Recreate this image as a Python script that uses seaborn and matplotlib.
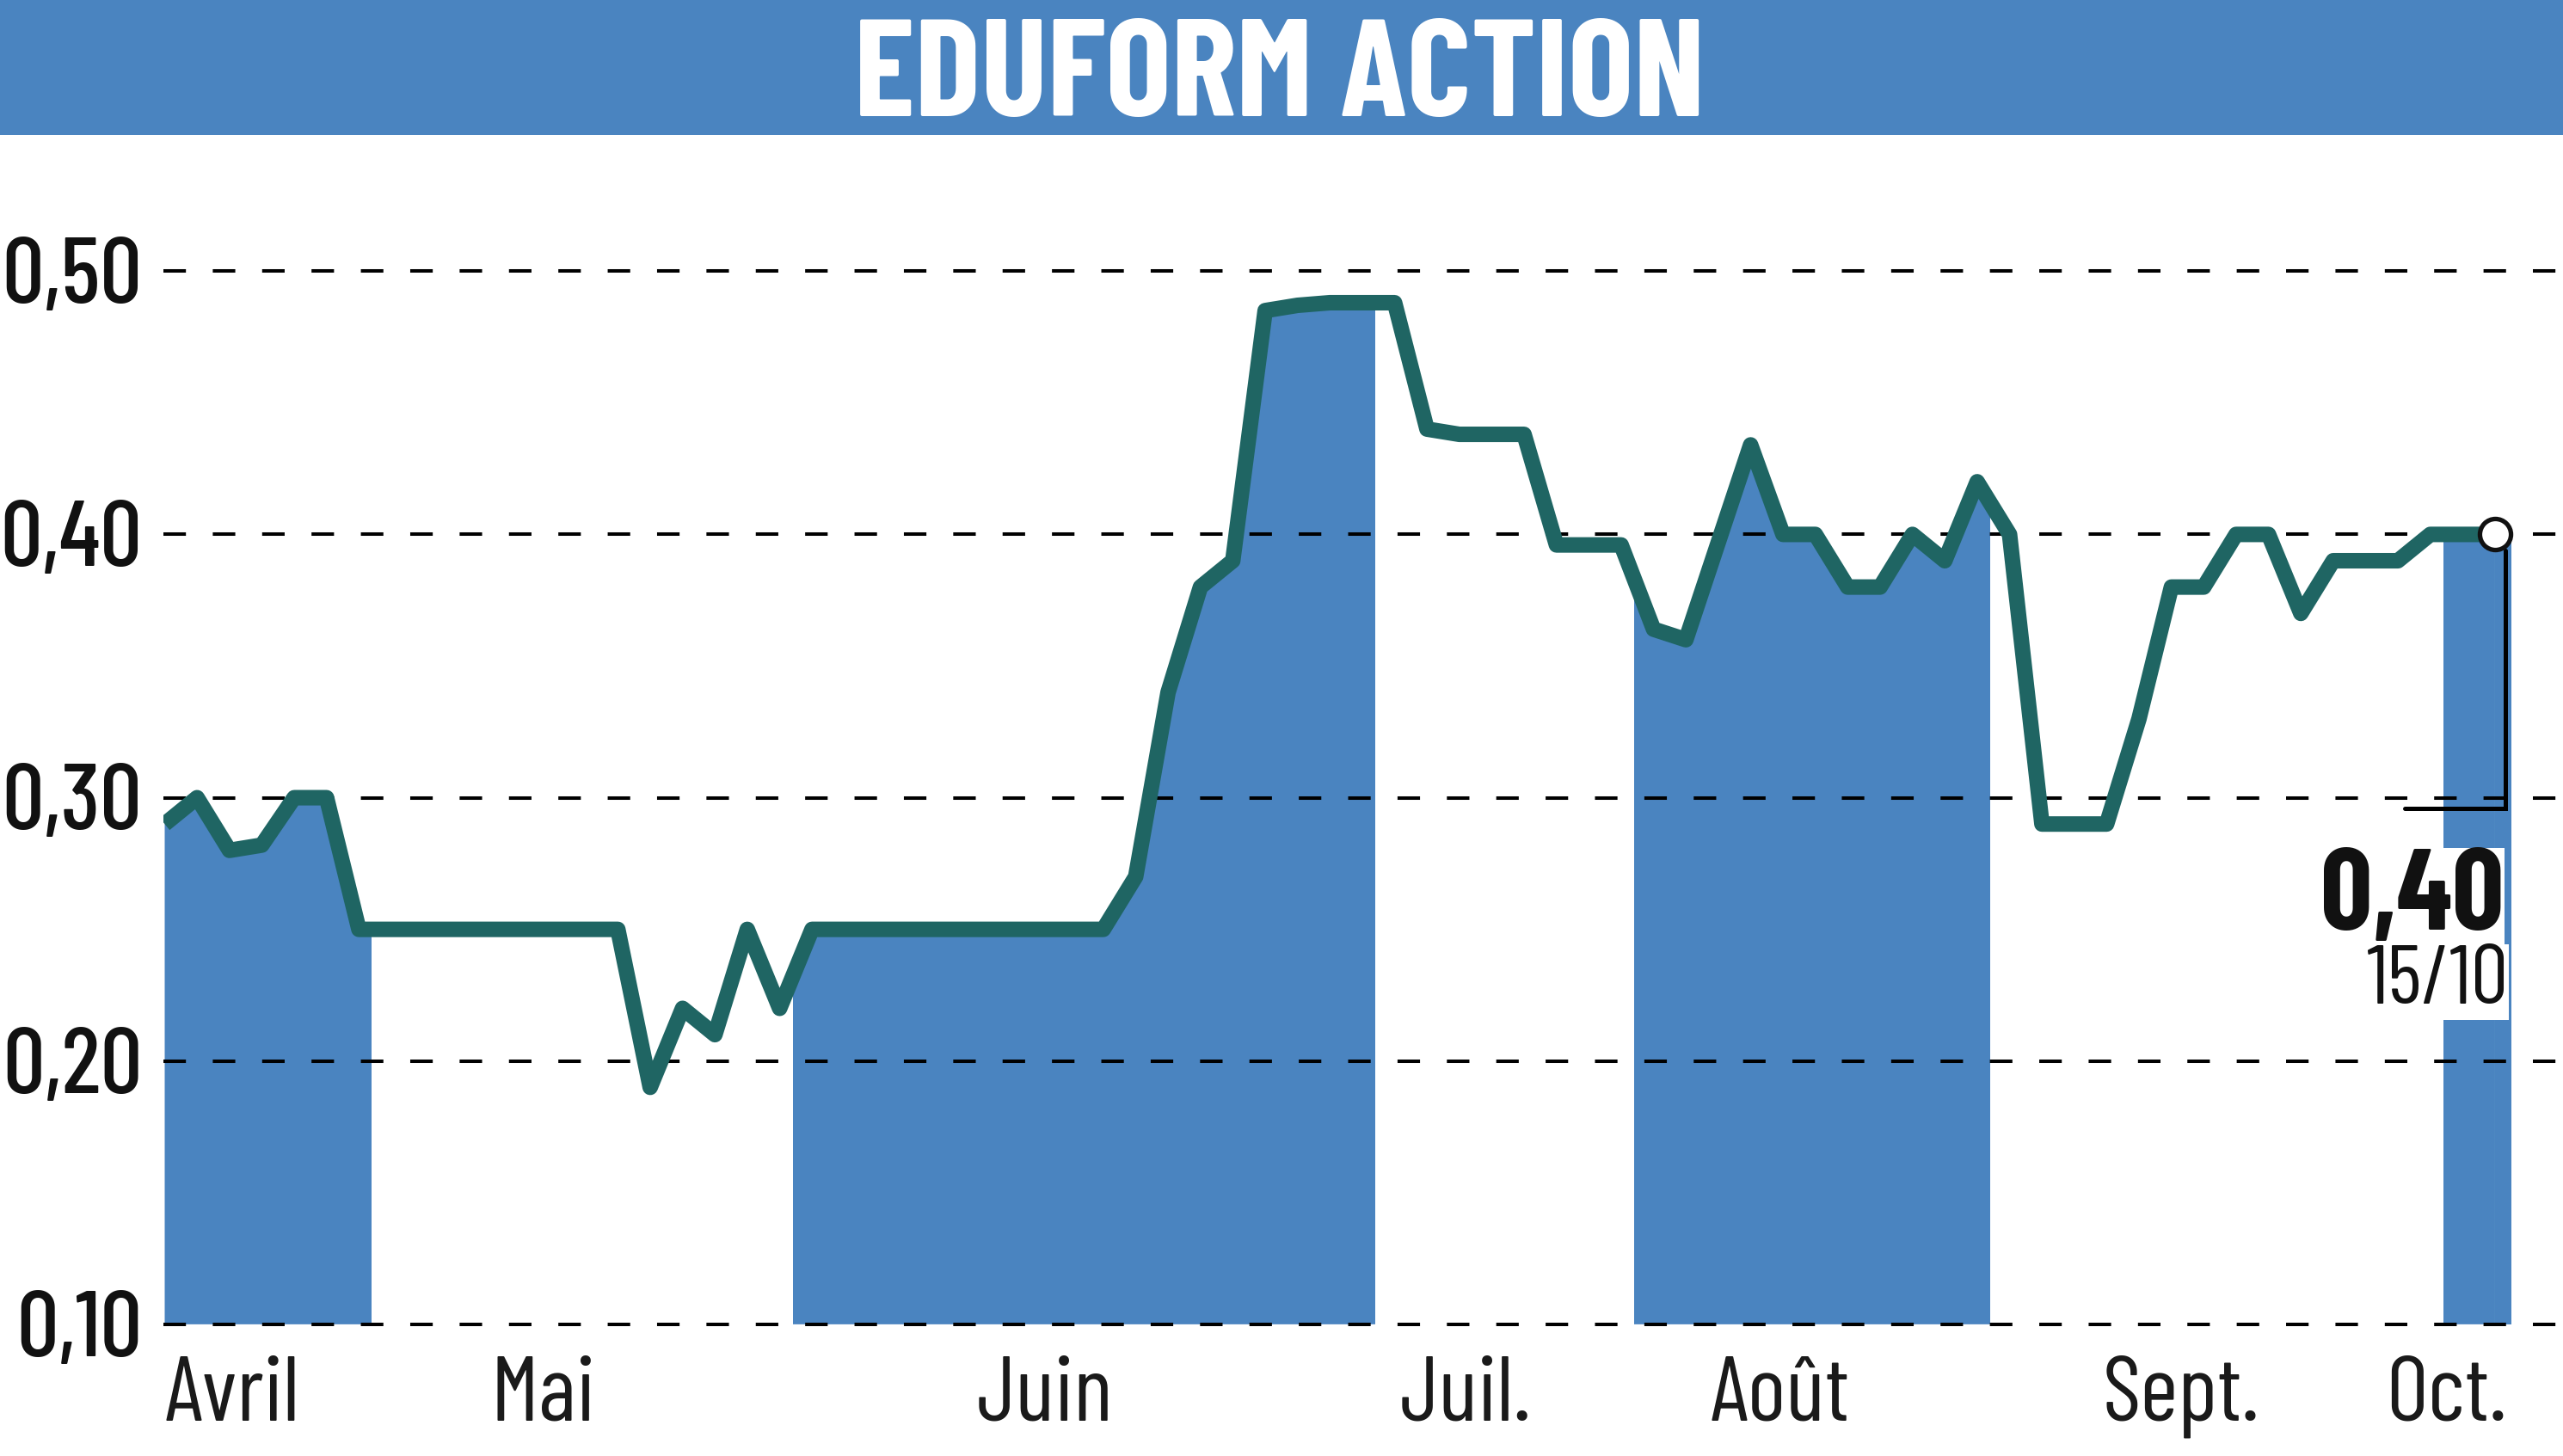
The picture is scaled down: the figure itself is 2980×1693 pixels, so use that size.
import matplotlib
matplotlib.use("Agg")
import matplotlib.pyplot as plt
import matplotlib.transforms as mtrans
from matplotlib import font_manager
from matplotlib.patches import Rectangle
import seaborn as sns

# Data: one point per trading session, from April to 15 October
price = [0.29, 0.30, 0.28, 0.282, 0.30, 0.30, 0.25,
         0.25, 0.25, 0.25, 0.25, 0.25, 0.25, 0.25, 0.25,
         0.19, 0.22, 0.21, 0.25, 0.22,
         0.25, 0.25, 0.25, 0.25, 0.25, 0.25, 0.25, 0.25, 0.25, 0.25,
         0.27, 0.34, 0.38, 0.39, 0.485, 0.487, 0.488, 0.488,
         0.488, 0.44, 0.438, 0.438, 0.438, 0.396, 0.396, 0.396,
         0.364, 0.36, 0.397, 0.434, 0.40, 0.40, 0.38, 0.38, 0.40, 0.39, 0.42,
         0.40, 0.29, 0.29, 0.29, 0.33, 0.38, 0.38, 0.40, 0.40, 0.37, 0.39,
         0.39, 0.39, 0.40,
         0.40, 0.40]
session = list(range(len(price)))

months = ["Avril", "Mai", "Juin", "Juil.", "Août", "Sept.", "Oct."]
month_first_session = [0, 7, 20, 38, 46, 57, 71]
month_label_pos = [2.1, 11.7, 27.2, 40.2, 49.9, 62.3, 70.5]
shaded_months = ["Avril", "Juin", "Août", "Oct."]

y_ticks = [0.10, 0.20, 0.30, 0.40, 0.50]
y_tick_labels = ["0,10", "0,20", "0,30", "0,40", "0,50"]

title = "EDUFORM ACTION"
last_value_label = "0,40"
last_date_label = "15/10"

# Colors
blue = "#4a84c0"
teal = "#1f6563"

sns.set_style("white")

# narrow font: Barlow Condensed when present, else DejaVu Sans condensed (smaller)
names = {f.name for f in font_manager.fontManager.ttflist}
if "Barlow Condensed" in names:
    font_kw = {"family": "Barlow Condensed"}
    k = 1.0
else:
    font_kw = {"family": "DejaVu Sans", "stretch": "condensed"}
    k = 0.74
plt.rcParams["font.family"] = [font_kw["family"], "DejaVu Sans"]

W, H = 2980, 1693
fig = plt.figure(figsize=(W / 100, H / 100), dpi=100)
ax = fig.add_axes([190 / W, 1 - 1546 / H, 1 - 190 / W, (1546 - 254) / H])
ax.set_xlim(-0.04, 74.1)
ax.set_ylim(0.098, 0.52)
ax.axis("off")

# Title bar
fig.add_artist(Rectangle((0, 1 - 157 / H), 1, 157 / H, transform=fig.transFigure,
                         color=blue, lw=0, zorder=0))
fig.text(0.4993, 1 - 135 / H, title, ha="center", va="baseline", color="white",
         fontsize=116 * k, fontweight="bold", **font_kw)

# Area under the line, used as a clip shape for the monthly shading
under = ax.fill_between(session, 0.10, price, color="none", lw=0)
clip = under.get_paths()[0]
bounds = month_first_session + [len(price)]
for i, m in enumerate(months):
    if m in shaded_months:
        span = ax.axvspan(bounds[i] - 0.6, bounds[i + 1] - 1 + 0.4, color=blue, lw=0, zorder=1)
        span.set_clip_path(clip, ax.transData)
x_last, y_last = session[-1], price[-1]
if months[-1] in shaded_months:
    ax.fill_between([x_last, x_last + 0.5], 0.10, y_last, color=blue, lw=0, zorder=1)

# Dashed grid
for v in y_ticks:
    ax.axhline(v, color="black", lw=2.9, linestyle=(0, (6.5, 7.75)), zorder=2)

sns.lineplot(x=session, y=price, ax=ax, color=teal, linewidth=13, zorder=3,
             solid_joinstyle="round", solid_capstyle="butt")

# y labels
for v, lab in zip(y_ticks, y_tick_labels):
    ax.annotate(lab, xy=(165 / W, v), xycoords=("figure fraction", "data"),
                xytext=(0, -26.6 * k), textcoords="offset points", ha="right", va="baseline",
                fontsize=78 * k, fontweight="medium", color="#111111", **font_kw)

# month labels
tr = mtrans.blended_transform_factory(ax.transData, fig.transFigure)
for pos, m in zip(month_label_pos, months):
    ax.text(pos, 1 - 1652 / H, m, transform=tr, ha="center", va="baseline",
            fontsize=77 * k, color="#1a1a1a", **font_kw)

# last value marker and bracket
ax.plot([x_last + 0.31, x_last + 0.31, x_last - 2.8], [y_last - 0.006, 0.2958, 0.2958],
        color="black", lw=3.6, zorder=4, solid_joinstyle="miter")
ax.plot([x_last], [y_last], marker="o", ms=26, mfc="white", mec="#111111", mew=3.8, zorder=5)

fig.text(2911 / W, 1 - 1081 / H, last_value_label, ha="right", va="baseline",
         fontsize=96 * k, fontweight="bold", color="#111111", zorder=6,
         bbox=dict(facecolor="white", edgecolor="none", pad=1), **font_kw)
fig.text(2916 / W, 1 - 1167 / H, last_date_label, ha="right", va="baseline",
         fontsize=70 * k, color="#111111", zorder=6,
         bbox=dict(facecolor="white", edgecolor="none", pad=0.5), **font_kw)

fig.savefig("out.png", dpi=100)
